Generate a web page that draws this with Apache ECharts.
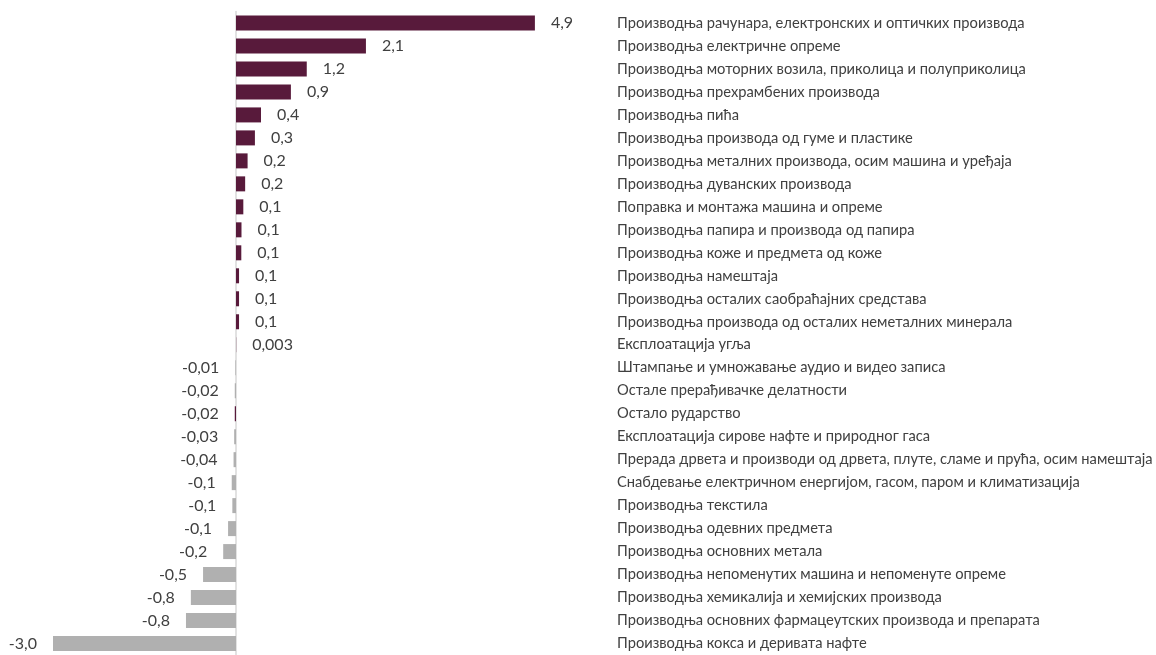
<!DOCTYPE html>
<html>
<head>
<meta charset="utf-8">
<script src="https://cdn.jsdelivr.net/npm/echarts@6/dist/echarts.min.js"></script>
<style>
html,body{margin:0;padding:0;background:#fff;}
#chart{width:1156px;height:655px;}
</style>
</head>
<body>
<div id="chart"></div>
<script>
var categories = [
  'Производња рачунара, електронских и оптичких производа',
  'Производња електричне опреме',
  'Производња моторних возила, приколица и полуприколица',
  'Производња прехрамбених производа',
  'Производња пића',
  'Производња производа од гуме и пластике',
  'Производња металних производа, осим машина и уређаја',
  'Производња дуванских производа',
  'Поправка и монтажа машина и опреме',
  'Производња папира и производа од папира',
  'Производња коже и предмета од коже',
  'Производња намештаја',
  'Производња осталих саобраћајних средстава',
  'Производња производа од осталих неметалних минерала',
  'Експлоатација угља',
  'Штампање и умножавање аудио и видео записа',
  'Остале прерађивачке делатности',
  'Остало рударство',
  'Експлоатација сирове нафте и природног гаса',
  'Прерада дрвета и производи од дрвета, плуте, сламе и прућа, осим намештаја',
  'Снабдевање електричном енергијом, гасом, паром и климатизација',
  'Производња текстила',
  'Производња одевних предмета',
  'Производња основних метала',
  'Производња непоменутих машина и непоменуте опреме',
  'Производња хемикалија и хемијских производа',
  'Производња основних фармацеутских производа и препарата',
  'Производња кокса и деривата нафте'
];
var values = [4.9, 2.13, 1.16, 0.9, 0.41, 0.31, 0.19, 0.15, 0.12, 0.09, 0.087, 0.05, 0.05, 0.05, 0.003,
  -0.01, -0.02, -0.02, -0.03, -0.04, -0.07, -0.06, -0.13, -0.21, -0.54, -0.74, -0.82, -3.0];
var valueLabels = ['4,9','2,1','1,2','0,9','0,4','0,3','0,2','0,2','0,1','0,1','0,1','0,1','0,1','0,1','0,003',
  '-0,01','-0,02','-0,02','-0,03','-0,04','-0,1','-0,1','-0,1','-0,2','-0,5','-0,8','-0,8','-3,0'];

var MAROON = '#581a3b', GRAY = '#b0b0b0';
var chart = echarts.init(document.getElementById('chart'));
var seriesData = values.map(function (v) {
  return v < 0 ? {value: v, label: {position: 'left'}} : v;
});
chart.setOption({
  animation: false,
  grid: {left: 22.5, width: 579.5, top: 11.5, height: 647, containLabel: false},
  xAxis: {type: 'value', min: -3.5, max: 6, show: false},
  yAxis: [{
    type: 'category', data: categories, inverse: true,
    axisLine: {show: true, onZero: true, lineStyle: {color: '#d9d9d9', width: 1.5}},
    axisTick: {show: false}, axisLabel: {show: false}, splitLine: {show: false}
  }, {
    type: 'category', data: categories, inverse: true, position: 'right',
    axisLine: {show: false, onZero: false}, axisTick: {show: false}, splitLine: {show: false},
    axisLabel: {show: true, align: 'left', margin: 15, color: '#404040', fontFamily: 'Lato', fontSize: 14.7}
  }],
  series: [{
    type: 'bar', yAxisIndex: 0, data: seriesData, barWidth: 15,
    itemStyle: {
      color: function (p) {
        return (p.value >= 0 || p.name === 'Остало рударство') ? MAROON : GRAY;
      }
    },
    label: {
      show: true, position: 'right', distance: 16, color: '#404040', fontFamily: 'Lato', fontSize: 16,
      formatter: function (p) { return valueLabels[p.dataIndex]; }
    }
  }]
});
</script>
</body>
</html>
